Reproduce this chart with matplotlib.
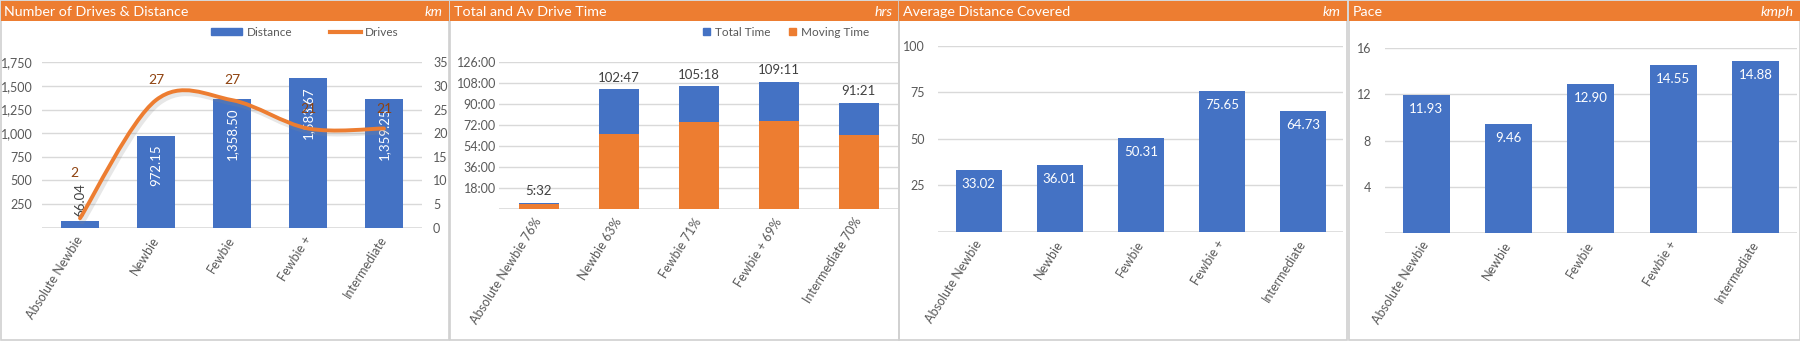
import matplotlib.pyplot as plt
from matplotlib.patches import Rectangle, Patch, PathPatch
from matplotlib.lines import Line2D
from matplotlib.path import Path
import matplotlib.patheffects as pe
import numpy as np

plt.rcParams['font.family'] = ['Lato', 'DejaVu Sans']

W, H = 1800, 341
BLUE = '#4472C4'
ORANGE = '#ED7D31'
GRID = '#D9D9D9'
TXT = '#595959'

# data
levels = ['Absolute Newbie', 'Newbie', 'Fewbie', 'Fewbie +', 'Intermediate']
distance = [66.04, 972.15, 1358.50, 1583.67, 1359.25]
drives = [2, 27, 27, 21, 21]
total_time = ['5:32', '102:47', '105:18', '109:11', '91:21']
moving_time = ['4:12', '64:45', '74:46', '75:20', '63:57']
moving_pct = ['76%', '63%', '71%', '69%', '70%']
avg_distance = [33.02, 36.01, 50.31, 75.65, 64.73]
pace = [11.93, 9.46, 12.90, 14.55, 14.88]

fig = plt.figure(figsize=(W / 100, H / 100), dpi=100)


def hours(s):
    "Turn an 'h:mm' string into decimal hours."
    h, m = s.split(':')
    return int(h) + int(m) / 60


def fx(x):
    return x / W


def fy(y):
    return 1 - y / H


def px_axes(l, t, r, b):
    "Axes placed by pixel box (left, top, right, bottom) measured from the top-left."
    return fig.add_axes([fx(l), fy(b), (r - l) / W, (b - t) / H])


def panel(x0, x1, title, unit):
    "Draw the grey card with its orange header strip."
    fig.patches.append(Rectangle((fx(x0), fy(340)), (x1 - x0) / W, 339 / H,
                                 transform=fig.transFigure, fill=False,
                                 ec='#D0D0D0', lw=1.2))
    fig.patches.append(Rectangle((fx(x0), fy(21)), (x1 - x0) / W, 20 / H,
                                 transform=fig.transFigure, fc=ORANGE, ec='none'))
    fig.text(fx(x0 + 4), fy(12), title, color='white', fontsize=10.3,
             ha='left', va='center')
    fig.text(fx(x1 - 6), fy(12), unit, color='white', fontsize=10.3,
             style='italic', ha='right', va='center')


def style_axes(ax, ymax, ticks, xlabels, ypad=8):
    ax.set_xlim(-0.5, len(xlabels) - 0.5)
    ax.set_ylim(0, ymax)
    for s in ax.spines.values():
        s.set_visible(False)
    ax.set_yticks(ticks)
    ax.yaxis.grid(True, color=GRID, lw=1)
    ax.set_axisbelow(True)
    ax.axhline(0, color=GRID, lw=1.2, zorder=0.5)
    ax.tick_params(length=0, colors=TXT, labelsize=9)
    ax.tick_params(axis='y', pad=ypad)
    ax.tick_params(axis='x', pad=7, labelsize=9)
    ax.set_xticks(range(len(xlabels)))
    ax.set_xticklabels(xlabels, rotation=58, ha='right', va='center',
                       rotation_mode='anchor')
    ax.set_facecolor('none')


def smooth_path(xs, ys):
    "Excel-like smoothed line: Catmull-Rom segments as cubic Beziers."
    pts = np.column_stack([xs, ys]).astype(float)
    n = len(pts)
    verts, codes = [pts[0]], [Path.MOVETO]
    for i in range(n - 1):
        p0, p1 = pts[max(i - 1, 0)], pts[i]
        p2, p3 = pts[i + 1], pts[min(i + 2, n - 1)]
        verts += [p1 + (p2 - p0) / 6, p2 - (p3 - p1) / 6, p2]
        codes += [Path.CURVE4] * 3
    return Path(verts, codes)


x = np.arange(len(levels))

# ---- panel 1: drives & distance
panel(0.5, 449, 'Number of Drives & Distance', 'km')
ax1 = px_axes(42, 62.3, 422, 227.7)
style_axes(ax1, 1750, range(250, 1751, 250), levels, ypad=7)
ax1.yaxis.set_major_formatter(lambda v, p: f'{v:,.0f}')
ax1.bar(x, distance, width=0.5, color=BLUE)
for i, d in enumerate(distance):
    if d > 300:
        ax1.annotate(f'{d:,.2f}', (i, d), xytext=(0, -6), textcoords='offset points',
                     rotation=90, ha='center', va='top', color='white', fontsize=9.5)
    else:
        ax1.annotate(f'{d:,.2f}', (i, d), xytext=(0, 3), textcoords='offset points',
                     rotation=90, ha='center', va='bottom', color='#404040', fontsize=9.5)

ax1b = ax1.twinx()
ax1b.set_ylim(0, 35)
ax1b.set_yticks(range(0, 36, 5))
for s in ax1b.spines.values():
    s.set_visible(False)
ax1b.tick_params(length=0, colors=TXT, labelsize=9, pad=8)
ax1b.add_patch(PathPatch(smooth_path(x, drives), fill=False, ec=ORANGE, lw=2.8,
                         capstyle='round',
                         path_effects=[pe.SimpleLineShadow(offset=(1.5, -2), shadow_color='#888888',
                                                           alpha=0.2, linewidth=4.5),
                                       pe.Normal()]))
drive_offsets = [(-4, 28), (0, 10), (0, 10), (0, 10), (0, 10)]
for i, d in enumerate(drives):
    ax1b.annotate(str(d), (i, d), xytext=drive_offsets[i], textcoords='offset points',
                  ha='center', va='bottom', color='#8F4310', fontsize=10)

fig.legend(handles=[Patch(color=BLUE), Line2D([], [], color=ORANGE, lw=3)],
           labels=['Distance', 'Drives'], loc='center', bbox_to_anchor=(fx(305), fy(32)),
           ncol=2, frameon=False, handlelength=2.6, handleheight=0.5,
           columnspacing=3.2, handletextpad=0.4, fontsize=8.5, labelcolor=TXT)

# ---- panel 2: total and moving time
panel(450, 898.5, 'Total and Av Drive Time', 'hrs')
ax2 = px_axes(498.7, 62.3, 898.7, 209.3)
time_labels = [f'{lv} {p}' for lv, p in zip(levels, moving_pct)]
style_axes(ax2, 126, range(18, 127, 18), time_labels, ypad=2)
ax2.yaxis.set_major_formatter(lambda v, p: f'{v:.0f}:00')
tot = [hours(t) for t in total_time]
mov = [hours(t) for t in moving_time]
ax2.bar(x, tot, width=0.5, color=BLUE)
ax2.bar(x, mov, width=0.5, color=ORANGE)
for i, t in enumerate(total_time):
    ax2.annotate(t, (i, tot[i]), xytext=(0, 4), textcoords='offset points',
                 ha='center', va='bottom', color='#404040', fontsize=9.5)
fig.legend(handles=[Patch(color=BLUE), Patch(color=ORANGE)],
           labels=['Total Time', 'Moving Time'], loc='center', bbox_to_anchor=(fx(786), fy(32)),
           ncol=2, frameon=False, handlelength=0.6, handleheight=0.6,
           columnspacing=1.6, handletextpad=0.4, fontsize=8.5, labelcolor=TXT)

# ---- panel 3: average distance
panel(899, 1347, 'Average Distance Covered', 'km')
ax3 = px_axes(938.3, 45.7, 1343.3, 231.7)
style_axes(ax3, 100, range(25, 101, 25), levels, ypad=10)
ax3.bar(x, avg_distance, width=0.57, color=BLUE)
for i, v in enumerate(avg_distance):
    ax3.annotate(f'{v:.2f}', (i, v), xytext=(0, -10), textcoords='offset points',
                 ha='center', va='center', color='white', fontsize=9.5)

# ---- panel 4: pace
panel(1349, 1799.5, 'Pace', 'kmph')
ax4 = px_axes(1385, 48.3, 1796.7, 232.7)
style_axes(ax4, 16, range(4, 17, 4), levels, ypad=10)
ax4.bar(x, pace, width=0.57, color=BLUE)
for i, v in enumerate(pace):
    ax4.annotate(f'{v:.2f}', (i, v), xytext=(0, -10), textcoords='offset points',
                 ha='center', va='center', color='white', fontsize=9.5)

fig.savefig('out.png', dpi=100)
